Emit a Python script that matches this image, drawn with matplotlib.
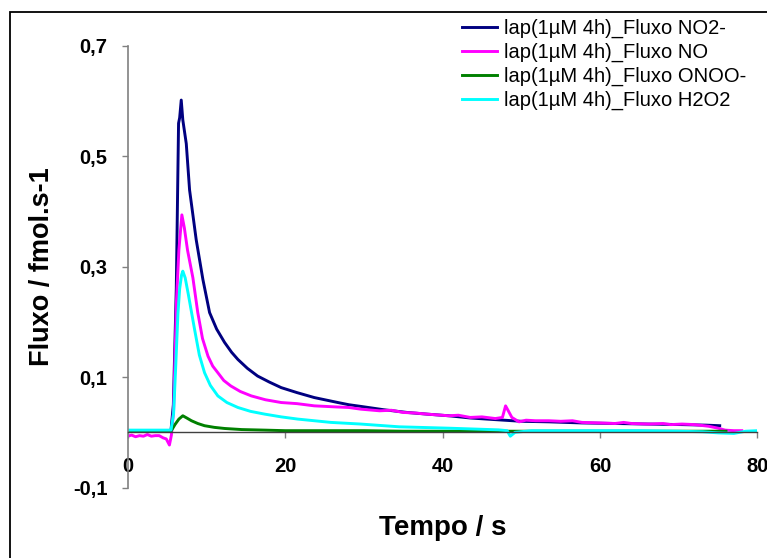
import matplotlib
matplotlib.use("Agg")
import matplotlib.pyplot as plt
from matplotlib.patches import Rectangle

plt.rcParams.update({
    "font.family": ["Liberation Sans", "DejaVu Sans"],
    "figure.dpi": 100,
})

# --- data (time in s, flux in fmol/s) ---
t_no2 = [0, 2, 4, 5.2, 5.5, 5.8, 6.17, 6.46, 6.6, 6.8, 7.0, 7.44, 7.86, 8.7, 9.55,
         10.4, 11.3, 12.3, 13.2, 14.0, 15.2, 16.5, 18.0, 19.5, 21.5, 23.7, 26.7,
         28.1, 29.6, 32.5, 35.5, 38.0, 40.8, 43.5, 46.7, 50.0, 53.5, 57.7, 62.0,
         66.0, 70.4, 73.5, 75.2]
v_no2 = [0.002, 0.002, 0.002, 0.002, 0.004, 0.05, 0.26, 0.56, 0.57, 0.602, 0.566,
         0.523, 0.439, 0.349, 0.277, 0.217, 0.187, 0.163, 0.145, 0.132, 0.116,
         0.102, 0.091, 0.081, 0.072, 0.063, 0.054, 0.050, 0.047, 0.041, 0.036,
         0.033, 0.030, 0.026, 0.023, 0.020, 0.019, 0.017, 0.016, 0.015, 0.014,
         0.013, 0.012]

t_no = [0, 0.5, 1.0, 1.5, 2.0, 2.5, 3.0, 3.5, 4.0, 4.5, 4.9, 5.3, 5.55, 5.83, 6.2,
        6.5, 6.88, 7.2, 7.6, 8.28, 8.9, 9.5, 10.2, 10.8, 11.45, 12.2, 13.1, 14.3,
        15.7, 17.5, 19.5, 21.5, 23.7, 26.5, 28.1, 29.6, 32.0, 33.5, 35.0, 36.5,
        38.0, 40.8, 42.0, 43.5, 45.0, 46.7, 47.6, 48.0, 48.8, 49.7, 50.6, 51.8,
        53.5, 55.0, 56.5, 57.7, 60.0, 61.9, 63.0, 64.0, 66.2, 68.0, 69.0, 70.4,
        72.0, 73.8, 75.0, 75.9, 77.0, 78.0]
v_no = [-0.007, -0.005, -0.008, -0.006, -0.007, -0.004, -0.007, -0.006, -0.006,
        -0.010, -0.012, -0.023, -0.005, 0.04, 0.24, 0.33, 0.394, 0.37, 0.33,
        0.28, 0.217, 0.17, 0.138, 0.120, 0.108, 0.094, 0.084, 0.074, 0.066,
        0.059, 0.054, 0.052, 0.048, 0.046, 0.045, 0.042, 0.039, 0.040, 0.036,
        0.035, 0.033, 0.030, 0.031, 0.027, 0.028, 0.025, 0.027, 0.048, 0.027,
        0.019, 0.022, 0.021, 0.021, 0.020, 0.021, 0.018, 0.017, 0.016, 0.018,
        0.016, 0.015, 0.016, 0.014, 0.015, 0.014, 0.011, 0.0075, 0.004, 0.003,
        0.003]

t_onoo = [0, 5.5, 6.0, 6.5, 7.0, 7.5, 8.1, 8.9, 9.76, 11.0, 12.3, 14.5, 17.4,
          20.0, 25.0, 30.0, 35.0, 40.0, 45.0, 50.0, 55.0, 60.0, 65.0, 70.0, 76.0]
v_onoo = [0.002, 0.002, 0.014, 0.024, 0.030, 0.026, 0.021, 0.016, 0.012, 0.009,
          0.007, 0.005, 0.004, 0.003, 0.003, 0.003, 0.002, 0.002, 0.002, 0.002,
          0.002, 0.002, 0.002, 0.002, 0.002]

t_h2o2 = [0, 5.5, 5.83, 6.1, 6.38, 6.6, 6.84, 7.0, 7.3, 7.7, 8.5, 9.1, 9.76, 10.5,
          11.45, 12.6, 14.0, 15.6, 17.4, 19.5, 21.6, 23.7, 25.8, 29.6, 34.5, 40.8,
          47.1, 48.2, 48.6, 49.2, 51.3, 55.0, 60.0, 65.0, 70.0, 73.0, 75.0, 77.0,
          78.5, 80.0]
v_h2o2 = [0.004, 0.004, 0.034, 0.12, 0.215, 0.26, 0.285, 0.292, 0.28, 0.25,
          0.186, 0.14, 0.108, 0.085, 0.066, 0.054, 0.045, 0.038, 0.033, 0.028,
          0.024, 0.021, 0.018, 0.015, 0.010, 0.0075, 0.0045, 0.003, -0.007, 0.000,
          0.003, 0.003, 0.003, 0.003, 0.002, 0.001, -0.001, -0.002, 0.002, 0.003]

SERIES = [
    ("lap(1µM 4h)_Fluxo NO2-", t_no2, v_no2, "#000080"),
    ("lap(1µM 4h)_Fluxo NO", t_no, v_no, "#FF00FF"),
    ("lap(1µM 4h)_Fluxo ONOO-", t_onoo, v_onoo, "#008000"),
    ("lap(1µM 4h)_Fluxo H2O2", t_h2o2, v_h2o2, "#00FFFF"),
]

x_ticks = [0, 20, 40, 60, 80]
y_ticks = [-0.1, 0.1, 0.3, 0.5, 0.7]
y_tick_labels = ["-0,1", "0,1", "0,3", "0,5", "0,7"]

fig = plt.figure(figsize=(7.67, 5.58))
ax = fig.add_axes([0.1665, 0.1263, 0.8211, 0.7913])

# spine position first: moving a spine resets the tick objects
ax.spines["top"].set_visible(False)
ax.spines["right"].set_visible(False)
ax.spines["bottom"].set_position(("data", 0))
ax.spines["bottom"].set_color("#404040")
ax.spines["bottom"].set_linewidth(1.0)
ax.spines["left"].set_color("#808080")
ax.spines["left"].set_linewidth(1.2)

for label, t, v, col in SERIES:
    ax.plot(t, v, color=col, lw=2.1, label=label, solid_joinstyle="round")

ax.set_xlim(0, 80)
ax.set_ylim(-0.1, 0.7)
ax.set_xticks(x_ticks)
ax.set_xticklabels([str(x) for x in x_ticks], fontsize=14.5, fontweight="bold")
ax.set_yticks(y_ticks)
ax.set_yticklabels(y_tick_labels, fontsize=14.5, fontweight="bold")
ax.tick_params(axis="x", direction="out", length=4.5, width=1.0, color="#808080", pad=13)
ax.tick_params(axis="y", direction="out", length=4.5, width=1.0, color="#808080", pad=10)

ax.set_xlabel("Tempo / s", fontsize=20, fontweight="bold")
ax.xaxis.set_label_coords(0.5, -0.092)
ax.xaxis.label.set_verticalalignment("center")
ax.set_ylabel("Fluxo / fmol.s-1", fontsize=19.5, fontweight="bold")
ax.yaxis.set_label_coords(-0.136, 0.5)
ax.yaxis.label.set_verticalalignment("center")

ax.legend(loc="upper left", bbox_to_anchor=(462 / 767, 1 - 19 / 558),
          bbox_transform=fig.transFigure, frameon=False, fontsize=14.5,
          handlelength=1.75, handletextpad=0.35, borderpad=0, borderaxespad=0,
          labelspacing=0.23)

# chart border (cut off at right and bottom like the reference)
fig.add_artist(Rectangle((9.5 / 767, -0.5), 2.0, 0.5 + 1 - 11.7 / 558,
                         transform=fig.transFigure, fill=False, ec="black",
                         lw=1.3, clip_on=False))

fig.savefig("out.png", dpi=100)
